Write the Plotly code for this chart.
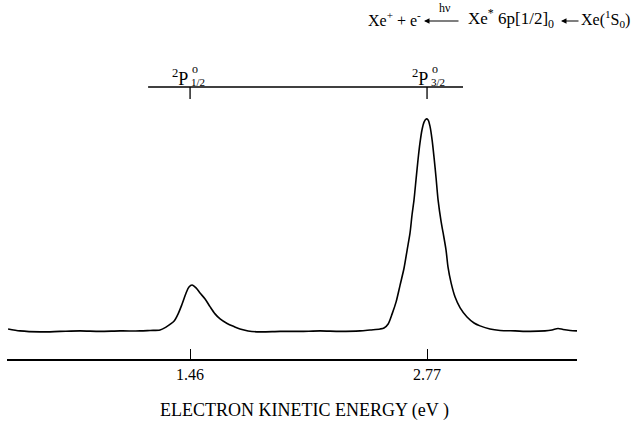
import plotly.graph_objects as go

# Electron kinetic energy (eV) and photoelectron intensity (arb. units, peak = 100)
energy_ev = [0.454, 0.520, 0.631, 0.741, 0.852, 0.962, 1.073, 1.184, 1.239, 1.294,
             1.327, 1.349, 1.372, 1.394, 1.416, 1.438, 1.454, 1.471, 1.493, 1.515,
             1.543, 1.571, 1.598, 1.626, 1.665, 1.703, 1.736, 1.781, 1.847, 1.958,
             2.068, 2.179, 2.289, 2.400, 2.455, 2.510, 2.532, 2.555, 2.577, 2.599,
             2.621, 2.643, 2.660, 2.676, 2.687, 2.698, 2.709, 2.720, 2.731, 2.742,
             2.754, 2.765, 2.776, 2.787, 2.798, 2.809, 2.820, 2.831, 2.848, 2.859,
             2.875, 2.886, 2.903, 2.925, 2.953, 2.991, 3.030, 3.063, 3.118, 3.174,
             3.257, 3.340, 3.422, 3.461, 3.494, 3.522, 3.561, 3.599]
intensity = [12.5, 11.7, 11.3, 11.5, 11.7, 11.5, 11.7, 11.7, 11.9, 12.1,
             13.3, 14.4, 15.8, 18.8, 22.9, 27.5, 30.0, 30.8, 29.6, 27.5,
             25.0, 21.7, 18.8, 16.7, 14.8, 13.5, 12.5, 11.7, 11.3, 11.5,
             11.5, 11.7, 11.5, 11.7, 12.1, 12.5, 12.9, 14.6, 18.8, 23.8,
             30.8, 37.9, 45.4, 52.5, 60.0, 66.3, 74.6, 82.9, 90.0, 95.4,
             98.8, 100.0, 99.6, 96.7, 91.3, 83.8, 75.4, 66.3, 57.1, 52.5,
             45.4, 38.3, 31.7, 25.8, 21.3, 17.5, 15.0, 13.8, 12.5, 11.9,
             11.7, 11.5, 11.7, 12.1, 12.7, 12.3, 11.9, 11.7]

tick_values = [1.46, 2.77]
tick_labels = ["1.46", "2.77"]
level_positions = [1.46, 2.77]
level_j = ["1/2", "3/2"]
bar_extent = [1.228, 2.969]

FONT = "Liberation Serif"
W, H = 634, 429
L, R, T, B = 7, 57, 40, 70
PW, PH = W - L - R, H - T - B


def pxx(p):
    return (p - L) / PW


def pxy(p):
    return (H - B - p) / PH


fig = go.Figure()
fig.add_trace(go.Scatter(x=energy_ev, y=intensity, mode="lines",
                         line=dict(color="black", width=1.6, shape="spline", smoothing=0.8),
                         hoverinfo="skip", showlegend=False))

shapes = []
annotations = []

# level bar at top
shapes.append(dict(type="line", xref="x", yref="paper", x0=bar_extent[0], x1=bar_extent[1],
                   y0=pxy(87), y1=pxy(87), line=dict(color="black", width=1.3)))
offsets = [0, 3]
for xv, j, off in zip(level_positions, level_j, offsets):
    shapes.append(dict(type="line", xref="x", yref="paper", x0=xv, x1=xv,
                       y0=pxy(87), y1=pxy(99), line=dict(color="black", width=1.3)))
    annotations.append(dict(x=xv, y=pxy(77), xref="x", yref="paper", text="<sup>2</sup>P",
                            xanchor="right", yanchor="middle", showarrow=False, xshift=off,
                            font=dict(family=FONT, size=18, color="black")))
    annotations.append(dict(x=xv, y=pxy(69), xref="x", yref="paper", text="o",
                            xanchor="left", yanchor="middle", showarrow=False, xshift=off,
                            font=dict(family=FONT, size=12, color="black")))
    annotations.append(dict(x=xv, y=pxy(82), xref="x", yref="paper", text=j,
                            xanchor="left", yanchor="middle", showarrow=False, xshift=off - 1,
                            font=dict(family=FONT, size=11, color="black")))

# reaction scheme
annotations.append(dict(x=pxx(366), y=pxy(19), xref="paper", yref="paper",
                        text="Xe<sup>+</sup> + e<sup>-</sup>", xanchor="left", yanchor="middle",
                        showarrow=False, font=dict(family=FONT, size=16, color="black")))
annotations.append(dict(x=pxx(424), y=pxy(21), xref="paper", yref="paper", text="",
                        showarrow=True, ax=36, ay=0, arrowhead=2, arrowsize=1, arrowwidth=1.1,
                        arrowcolor="black"))
annotations.append(dict(x=pxx(445), y=pxy(8), xref="paper", yref="paper", text="hν",
                        xanchor="center", yanchor="middle", showarrow=False,
                        font=dict(family=FONT, size=12, color="black")))
annotations.append(dict(x=pxx(466), y=pxy(19), xref="paper", yref="paper",
                        text="Xe<sup>*</sup> 6p[1/2]<sub>0</sub>", xanchor="left", yanchor="middle",
                        showarrow=False, font=dict(family=FONT, size=17, color="black")))
annotations.append(dict(x=pxx(561), y=pxy(21), xref="paper", yref="paper", text="",
                        showarrow=True, ax=19, ay=0, arrowhead=2, arrowsize=1, arrowwidth=1.1,
                        arrowcolor="black"))
annotations.append(dict(x=pxx(632), y=pxy(19), xref="paper", yref="paper",
                        text="Xe(<sup>1</sup>S<sub>0</sub>)", xanchor="right", yanchor="middle",
                        showarrow=False, font=dict(family=FONT, size=16, color="black")))

# axis title
annotations.append(dict(x=pxx(304), y=pxy(410), xref="paper", yref="paper",
                        text="ELECTRON KINETIC ENERGY (eV )", xanchor="center", yanchor="middle",
                        showarrow=False, font=dict(family=FONT, size=18, color="black")))

fig.update_layout(
    width=W, height=H,
    margin=dict(l=L, r=R, t=T, b=B, pad=0),
    paper_bgcolor="white", plot_bgcolor="white",
    showlegend=False,
    shapes=shapes, annotations=annotations,
    xaxis=dict(range=[0.448, 3.599], showgrid=False, zeroline=False,
               showline=True, linecolor="black", linewidth=1.5,
               ticks="inside", ticklen=10, tickwidth=1, tickcolor="black",
               tickvals=tick_values, ticktext=tick_labels,
               tickfont=dict(family=FONT, size=16, color="black")),
    yaxis=dict(range=[0, 132.9], visible=False, showgrid=False, zeroline=False),
)

fig.write_html("out.html", config={"displayModeBar": False},
               post_script="document.body.style.margin='0';document.body.style.overflow='hidden';")
